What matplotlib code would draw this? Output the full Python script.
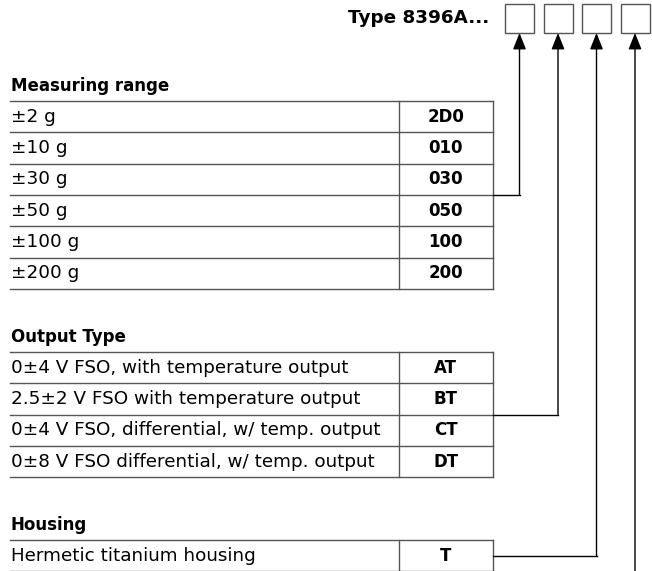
import matplotlib
matplotlib.use('Agg')
from matplotlib import pyplot as plt

plt.rcParams['font.family'] = ['DejaVu Sans']

# ordering key data
type_name = 'Type 8396A...'

range_title = 'Measuring range'
range_labels = ['±2 g', '±10 g', '±30 g', '±50 g', '±100 g', '±200 g']
range_codes = ['2D0', '010', '030', '050', '100', '200']

output_title = 'Output Type'
output_labels = ['0±4 V FSO, with temperature output',
                 '2.5±2 V FSO with temperature output',
                 '0±4 V FSO, differential, w/ temp. output',
                 '0±8 V FSO differential, w/ temp. output']
output_codes = ['AT', 'BT', 'CT', 'DT']

housing_title = 'Housing'
housing_labels = ['Hermetic titanium housing']
housing_codes = ['T']

fig = plt.figure(figsize=(6.52, 5.71), dpi=100)
ax = fig.add_axes([0, 0, 1, 1])
ax.set_xlim(0, 652)
ax.set_ylim(571, 0)
ax.axis('off')

row_h = 31.3
x_left, x_div, x_right = 10, 398.5, 493
line_col = '#555555'
fs = 13.2
fs_head = 12


def draw_table(top, title, labels, codes):
    ax.text(x_left + 1, top - 15, title, fontsize=fs_head, fontweight='bold', va='center')
    n = len(labels)
    bottom = top + n * row_h
    ax.plot([x_div, x_div], [top, bottom], color=line_col, lw=1)
    ax.plot([x_right, x_right], [top, bottom], color=line_col, lw=1)
    ax.plot([x_left, x_right], [top, top], color=line_col, lw=1)
    for i, (lab, code) in enumerate(zip(labels, codes)):
        y0 = top + i * row_h
        ax.plot([x_left, x_right], [y0 + row_h, y0 + row_h], color=line_col, lw=1)
        ax.text(x_left + 1, y0 + row_h / 2, lab, fontsize=fs, va='center')
        ax.text((x_div + x_right) / 2, y0 + row_h / 2, code, fontsize=fs_head,
                fontweight='bold', va='center', ha='center')


draw_table(101, range_title, range_labels, range_codes)
draw_table(352, output_title, output_labels, output_codes)
draw_table(540, housing_title, housing_labels, housing_codes)

# type boxes
ax.text(489, 18, type_name, fontsize=13.2, fontweight='bold', ha='right', va='center')
box_x = [505, 543.5, 582, 620.5]
box_w, box_top, box_bot = 29, 4, 33
for bx in box_x:
    ax.add_patch(plt.Rectangle((bx, box_top), box_w, box_bot - box_top,
                               fill=False, edgecolor=line_col, lw=1))

# connectors: (row y, box index)
conn_y = [101 + 3 * row_h, 352 + 2 * row_h, 540 + row_h / 2, 580]
for bx, cy in zip(box_x, conn_y):
    xc = bx + box_w / 2
    if cy < 571:
        ax.plot([x_right, xc], [cy, cy], color='black', lw=1)
    ax.annotate('', xy=(xc, box_bot), xytext=(xc, cy),
                arrowprops=dict(arrowstyle='-|>,head_length=1.0,head_width=0.4',
                                color='black', lw=1, mutation_scale=10,
                                shrinkA=0, shrinkB=0))

fig.savefig('out.png', dpi=100)
